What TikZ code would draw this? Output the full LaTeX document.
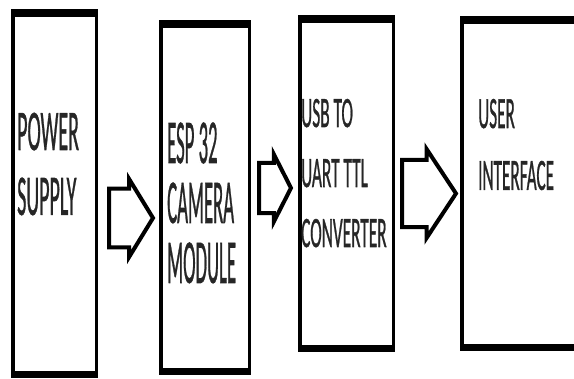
\documentclass[tikz,border=0pt]{standalone}
\usepackage{graphicx}
\usepackage{fontspec}
\setmainfont{Carlito}
\newfontface\boxfont{Carlito}[FakeBold=1.2]
\usepackage{tikz}
\usetikzlibrary{shapes.arrows, positioning}

% tall narrow lettering of the boxes: scale, size, skip, lines
\newcommand{\tallcol}[4]{\scalebox{1}[#1]{\boxfont\fontsize{#2}{#3}\selectfont
  \begin{tabular}[t]{@{}l@{}}#4\end{tabular}}}

\begin{document}
\begin{tikzpicture}[
  x=1pt, y=-1pt,
  block/.style={
    rectangle, anchor=north west, inner sep=0pt, outer sep=0pt,
    fill=black,
    path picture={\fill[white]
      ([xshift=3.5pt,yshift=-8pt]path picture bounding box.north west) rectangle
      ([xshift=-3.5pt,yshift=7pt]path picture bounding box.south east);}
  },
  lbl/.style={anchor=base west, inner sep=0pt, text=black!85},
  fat/.style={
    single arrow, draw, line width=4pt, fill=white,
    anchor=tail, inner xsep=0pt, single arrow head indent=0pt
  }
]
\useasboundingbox (0,0) rectangle (574,379);
\fill[white] (0,0) rectangle (574,379);
\clip (0,0) rectangle (574,379);

% --- Blocks ---
\node[block, minimum width=87pt,  minimum height=369pt] (ps)  at (11,9)   {};
\node[block, minimum width=92pt,  minimum height=355pt] (esp) at (159,20) {};
\node[block, minimum width=97pt,  minimum height=337pt] (usb) at (298,15) {};
\node[block, minimum width=125pt, minimum height=335pt] (ui)  at (460,16) {};

% --- Labels ---
\node[lbl] (pstext)  at (17,150)  {\tallcol{2.87}{20}{22.6}{POWER\\SUPPLY}};
\node[lbl] (esptext) at (167,163) {\tallcol{3.33}{18.7}{18}{ESP 32\\CAMERA\\MODULE}};
\node[lbl] (usbtext) at (301,127) {\tallcol{2.5}{17.3}{24}{USB TO\\UART TTL\\CONVERTER}};
\node[lbl] (uitext)  at (478,128) {\tallcol{2.6}{17.2}{23.8}{USER\\INTERFACE}};

% --- Block arrows between the boxes ---
\node[fat, minimum height=44pt, minimum width=78pt, inner ysep=20pt,
  single arrow tip angle=117] (ps2esp)  at (107,218)   {};
\node[fat, minimum height=32pt, minimum width=67pt, inner ysep=19pt,
  single arrow tip angle=126] (esp2usb) at (257,188)   {};
\node[fat, minimum height=54pt, minimum width=89pt, inner ysep=20pt,
  single arrow tip angle=113] (usb2ui)  at (400,193.5) {};

\end{tikzpicture}
\end{document}
